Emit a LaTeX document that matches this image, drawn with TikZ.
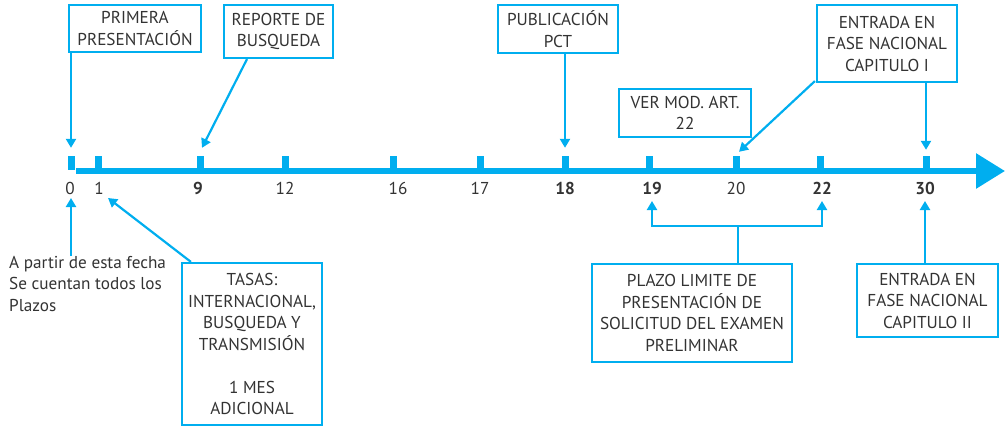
\documentclass[tikz,border=0pt]{standalone}
\usepackage{fontspec}
\setmainfont{PT Sans}
\usetikzlibrary{arrows.meta}
\definecolor{cy}{HTML}{00AEEF}
\definecolor{tx}{HTML}{333333}
\begin{document}
\begin{tikzpicture}[x=1pt,y=-1pt,
  every node/.style={text=tx,font=\fontsize{17.2}{21.5}\selectfont},
  box/.style={draw=cy,line width=2.2pt,align=center,inner sep=2pt},
  tickm/.style={fill=cy,inner sep=0,minimum width=7pt,minimum height=14pt},
  lab/.style={inner sep=0},
  arr/.style={draw=cy,line width=2.2pt,-{Triangle[width=10pt,length=9pt]}},
  con/.style={draw=cy,line width=2.2pt}]
\useasboundingbox (0,0) rectangle (1005,426);
% axis
\coordinate (ax0) at (76,171);
\coordinate (ax1) at (1005,171);
\draw[cy,line width=6pt,-{Triangle[width=34pt,length=29pt]}] (ax0) -- (ax1);
% ticks
\foreach \n/\x in {0/71,1/98.5,9/200,12/285,16/393.5,17/480,18/565,19/649,20/736,22/820,30/926}
  \node[tickm] (t\n) at (\x,163) {};
% labels
\node[lab] (l0) at (70,188) {0};
\node[lab] (l1) at (99,188) {1};
\node[lab] (l9) at (198,188) {\bfseries 9};
\node[lab] (l12) at (285,188) {12};
\node[lab] (l16) at (398,188) {16};
\node[lab] (l17) at (480,188) {17};
\node[lab] (l18) at (565,188) {\bfseries 18};
\node[lab] (l19) at (652,188) {\bfseries 19};
\node[lab] (l20) at (736,188) {20};
\node[lab] (l22) at (822,188) {\bfseries 22};
\node[lab] (l30) at (925,188) {\bfseries 30};
% top boxes
\node[box,minimum width=132pt,minimum height=47pt] (prim) at (135,28.5) {PRIMERA\\PRESENTACIÓN};
\node[box,minimum width=109pt,minimum height=53pt] (rep) at (278.5,31.5) {REPORTE DE\\BUSQUEDA};
\node[box,minimum width=120pt,minimum height=48pt] (pub) at (558,29) {PUBLICACIÓN\\PCT};
\node[box,minimum width=132pt,minimum height=48pt] (ver) at (685,113) {VER MOD. ART.\\22};
\node[box,minimum width=140pt,minimum height=77pt] (ent1) at (887,43.5) {ENTRADA EN\\FASE NACIONAL\\CAPITULO I};
% bottom boxes
\node[box,minimum width=140pt,minimum height=162pt] (tasas) at (252,344) {TASAS:\\INTERNACIONAL,\\BUSQUEDA Y\\TRANSMISIÓN\\[21.5pt]1 MES\\ADICIONAL};
\node[box,minimum width=200pt,minimum height=98pt] (plazo) at (692,313) {PLAZO LIMITE DE\\PRESENTACIÓN DE\\SOLICITUD DEL EXAMEN\\PRELIMINAR};
\node[box,minimum width=141pt,minimum height=73pt] (ent2) at (927.5,300.5) {ENTRADA EN\\FASE NACIONAL\\CAPITULO II};
\node[inner sep=0,anchor=north west,align=left] (apartir) at (9,256) {A partir de esta fecha\\Se cuentan todos los\\Plazos};
% connectors top
\draw[arr] (t0.north |- prim.south) -- ([yshift=8pt]t0.north);
\draw[arr] ([xshift=-31.5pt]rep.south) -- ([shift={(2pt,8pt)}]t9.north);
\draw[arr] (t18.north |- pub.south) -- ([yshift=8pt]t18.north);
\draw[arr] ([shift={(-1pt,2pt)}]ent1.south west) -- ([shift={(3pt,4pt)}]t20.north);
\draw[arr] (t30.north |- ent1.south) -- ([yshift=6pt]t30.north);
% connectors bottom
\draw[arr] ([xshift=62pt]apartir.north west) -- ([shift={(1pt,-10pt)}]l0.center);
\draw[arr] ([xshift=10pt]tasas.north west) -- ([shift={(9pt,-10pt)}]l1.center);
\coordinate (br) at (738,226);
\draw[con] (br |- plazo.north) -- (br);
\draw[arr] (br) -| ([yshift=-13pt]l19.center);
\draw[arr] (br) -| ([yshift=-13pt]l22.center);
\draw[arr] (l30.center |- ent2.north) -- ([yshift=-13pt]l30.center);
\end{tikzpicture}
\end{document}
